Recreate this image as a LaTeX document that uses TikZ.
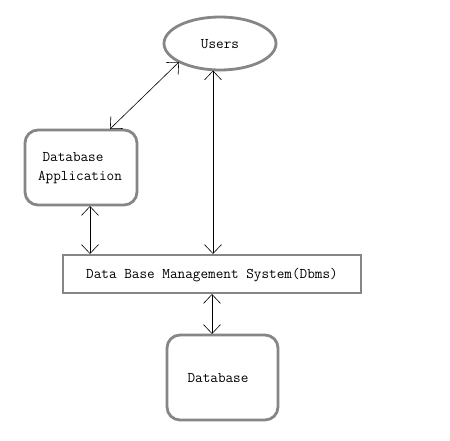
\documentclass[tikz,border=0pt]{standalone}
\usetikzlibrary{arrows.meta,shapes.geometric}
\begin{document}
\begin{tikzpicture}[x=1pt,y=-1pt,
  grayshape/.style={draw=gray!95, line width=2.8pt, inner sep=0pt},
  roundbox/.style={grayshape, rounded corners=13pt},
  conn/.style={draw=black, line width=0.6pt, {Straight Barb[length=9pt,width=17pt]}-{Straight Barb[length=9pt,width=17pt]}},
  lbl/.style={font=\ttfamily\fontsize{14.8}{17}\selectfont, inner sep=0pt}]
\useasboundingbox (0,0) rectangle (450,440);
\node[grayshape, ellipse, minimum width=112pt, minimum height=53pt] (users) at (220,43.5) {};
\node[lbl] (usersl) at (220,44) {Users};
\node[roundbox, minimum width=112pt, minimum height=75pt] (app) at (81,167.5) {};
\node[lbl] (appl1) at (73,157) {Database};
\node[lbl] (appl2) at (80,178) {Application};
\node[grayshape, minimum width=298pt, minimum height=38pt] (dbms) at (212,274) {};
\node[lbl] (dbmsl) at (212,275) {Data Base Management System(Dbms)};
\node[roundbox, minimum width=111pt, minimum height=85pt] (db) at (222.5,377.5) {};
\node[lbl] (dbl) at (218,378) {Database};
\coordinate (a1) at (110,129);
\coordinate (a2) at (179,62);
\coordinate (u1) at (213,70.5);
\coordinate (u2) at (213,254);
\coordinate (p1) at (90,206);
\coordinate (p2) at (90,254);
\coordinate (d1) at (212,294);
\coordinate (d2) at (212,334);
\draw[conn] (a1) -- (a2);
\draw[conn] (u1) -- (u2);
\draw[conn] (p1) -- (p2);
\draw[conn] (d1) -- (d2);
\end{tikzpicture}
\end{document}
